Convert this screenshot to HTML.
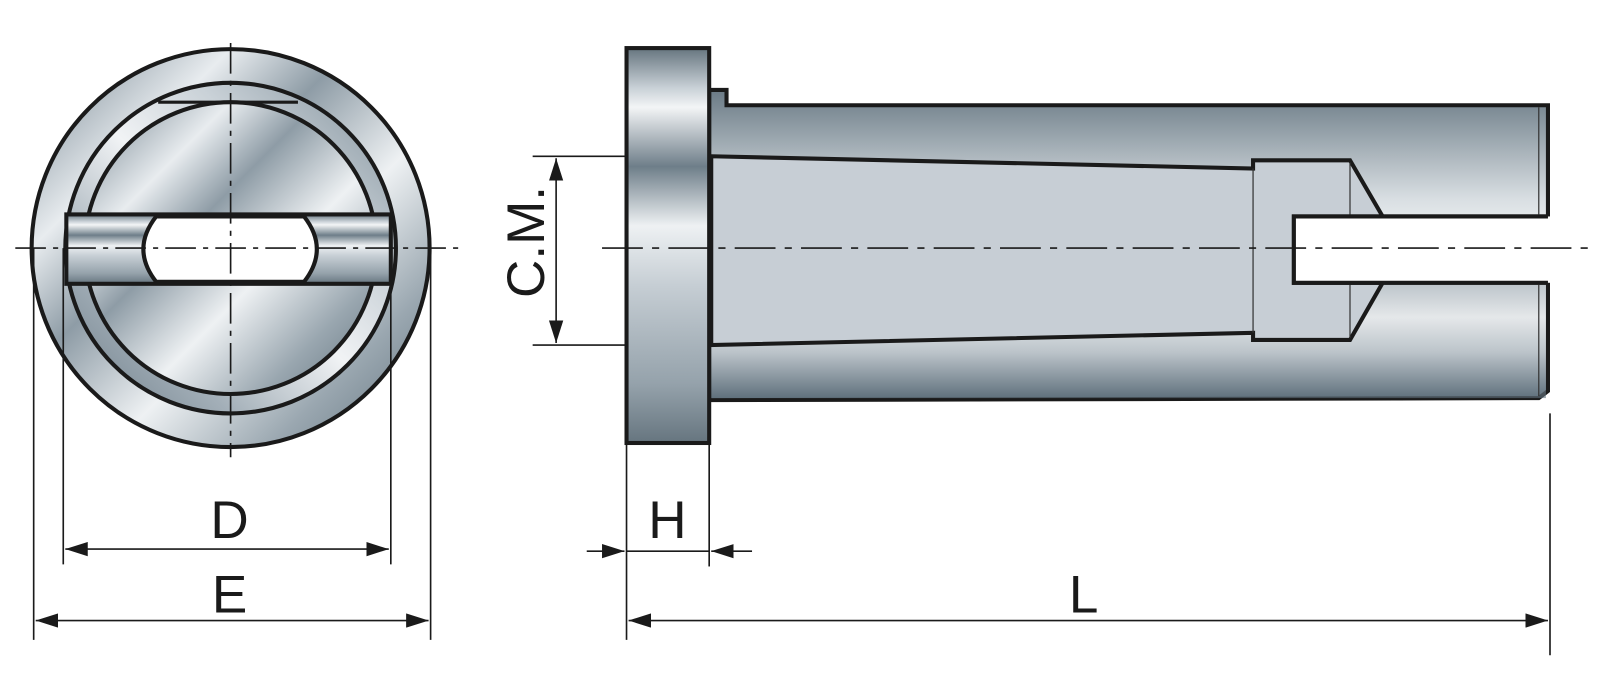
<!DOCTYPE html>
<html><head><meta charset="utf-8"><style>
html,body{margin:0;padding:0;background:#fff;}
svg{display:block;}
text{font-family:"Liberation Sans",Arial,sans-serif;fill:#1a1a1a;}
</style></head><body>
<svg width="1600" height="687" viewBox="0 0 1568 673" xmlns="http://www.w3.org/2000/svg">
<defs>
<linearGradient id="met" x1="0" y1="0" x2="1" y2="1">
<stop offset="0" stop-color="#6e7f8b"/><stop offset="0.25" stop-color="#e8ecef"/>
<stop offset="0.4" stop-color="#8e9ca6"/><stop offset="0.6" stop-color="#eef1f3"/>
<stop offset="0.8" stop-color="#9aa7b0"/><stop offset="1" stop-color="#5f707c"/>
</linearGradient>
<linearGradient id="met2" x1="1" y1="0" x2="0" y2="1">
<stop offset="0" stop-color="#7d8d98"/><stop offset="0.3" stop-color="#c9d1d7"/>
<stop offset="0.5" stop-color="#f1f3f5"/><stop offset="0.75" stop-color="#a3afb8"/>
<stop offset="1" stop-color="#6a7a86"/>
</linearGradient>
<linearGradient id="flange" x1="0" y1="0" x2="0" y2="1">
<stop offset="0" stop-color="#66757f"/><stop offset="0.1" stop-color="#c8d0d6"/>
<stop offset="0.15" stop-color="#f3f5f6"/><stop offset="0.3" stop-color="#6e7e89"/>
<stop offset="0.45" stop-color="#eef1f3"/><stop offset="0.6" stop-color="#c6ced4"/>
<stop offset="0.85" stop-color="#95a2ab"/><stop offset="1" stop-color="#66757f"/>
</linearGradient>
<linearGradient id="rod" x1="0" y1="0" x2="0" y2="1">
<stop offset="0" stop-color="#6a7a85"/><stop offset="0.35" stop-color="#d8dee2"/>
<stop offset="0.55" stop-color="#ffffff"/><stop offset="1" stop-color="#5f707c"/>
</linearGradient>
<linearGradient id="rodb" x1="0" y1="0" x2="0" y2="1">
<stop offset="0" stop-color="#9fabb4"/><stop offset="0.3" stop-color="#ffffff"/>
<stop offset="0.6" stop-color="#d5dbe0"/><stop offset="1" stop-color="#5f707c"/>
</linearGradient>
<marker id="ah" viewBox="0 0 22 14" refX="22" refY="7" markerWidth="22" markerHeight="14" markerUnits="userSpaceOnUse" orient="auto-start-reverse">
<path d="M0,0 L22,7 L0,14 Z" fill="#1a1a1a"/>
</marker>
</defs>

<!-- LEFT VIEW -->
<circle cx="226" cy="243" r="195" fill="url(#met)" stroke="#1a1a1a" stroke-width="4"/>
<circle cx="226" cy="243" r="162" fill="url(#met2)" stroke="#1a1a1a" stroke-width="4"/>
<circle cx="226" cy="243" r="143" fill="url(#met)" stroke="#1a1a1a" stroke-width="4"/>
<path d="M155,100 L292,100" stroke="#1a1a1a" stroke-width="3"/>
<rect x="65" y="210" width="318" height="68" fill="url(#flange)" stroke="#1a1a1a" stroke-width="4"/>
<path d="M153,212 Q128,244 153,276 L298,276 Q323,244 298,212 Z" fill="#fff" stroke="#1a1a1a" stroke-width="4"/>
<g stroke="#1a1a1a" stroke-width="1.6" fill="none">
<line x1="226" y1="42" x2="226" y2="448" stroke-dasharray="30,7,5,7"/>
<line x1="15" y1="243" x2="452" y2="243" stroke-dasharray="30,7,5,7"/>
<line x1="33" y1="243" x2="33" y2="627"/>
<line x1="422" y1="243" x2="422" y2="627"/>
<line x1="62" y1="243" x2="62" y2="553"/>
<line x1="383" y1="243" x2="383" y2="553"/>
<line x1="64" y1="538" x2="381" y2="538" marker-start="url(#ah)" marker-end="url(#ah)"/>
<line x1="35" y1="608" x2="420" y2="608" marker-start="url(#ah)" marker-end="url(#ah)"/>
</g>
<text x="225" y="527" font-size="52" text-anchor="middle">D</text>
<text x="225" y="600" font-size="52" text-anchor="middle">E</text>

<!-- RIGHT VIEW -->
<path d="M695,88 L712,88 L712,103 L1517,103 L1517,212 L1355,212 L1355,277 L1517,277 L1517,383 L1508,390 L695,392 Z" fill="url(#rod)" stroke="#1a1a1a" stroke-width="4"/>
<rect x="697" y="277" width="818" height="113" fill="url(#rodb)" opacity="0.6"/>
<line x1="1508" y1="105" x2="1508" y2="210" stroke="#333" stroke-width="1.2"/>
<line x1="1508" y1="279" x2="1508" y2="388" stroke="#333" stroke-width="1.2"/>
<path d="M697,153 L1228,165 L1228,157 L1323,157 L1355,212 L1268,212 L1268,277 L1355,277 L1323,333 L1228,333 L1228,326 L697,338 Z" fill="#c7ced5" stroke="#1a1a1a" stroke-width="4" stroke-linejoin="miter"/>
<line x1="1323" y1="159" x2="1323" y2="212" stroke="#333" stroke-width="1.2"/>
<line x1="1323" y1="277" x2="1323" y2="331" stroke="#333" stroke-width="1.2"/>
<line x1="1228" y1="165" x2="1228" y2="326" stroke="#333" stroke-width="1.2"/>
<!-- slot white -->
<rect x="1268" y="212" width="260" height="65" fill="#fff"/>
<path d="M1530,212 L1268,212 L1268,277 L1530,277" fill="none" stroke="#fff" stroke-width="0"/>
<path d="M1517,212 L1268,212 L1268,277 L1517,277" fill="none" stroke="#1a1a1a" stroke-width="4"/>
<!-- flange -->
<rect x="614" y="47" width="81" height="387" fill="url(#flange)" stroke="#1a1a1a" stroke-width="4"/>
<g stroke="#1a1a1a" stroke-width="1.6" fill="none">
<line x1="590" y1="243" x2="1562" y2="243" stroke-dasharray="40,9,7,9"/>
<line x1="522" y1="153" x2="614" y2="153"/>
<line x1="522" y1="338" x2="614" y2="338"/>
<line x1="545" y1="155" x2="545" y2="336" marker-start="url(#ah)" marker-end="url(#ah)"/>
<line x1="614" y1="434" x2="614" y2="627"/>
<line x1="695" y1="434" x2="695" y2="555"/>
<line x1="1519" y1="405" x2="1519" y2="642"/>
<line x1="575" y1="540" x2="612" y2="540" marker-end="url(#ah)"/>
<line x1="614" y1="540" x2="695" y2="540"/>
<line x1="737" y1="540" x2="697" y2="540" marker-end="url(#ah)"/>
<line x1="616" y1="608" x2="1517" y2="608" marker-start="url(#ah)" marker-end="url(#ah)"/>
</g>
<text x="654" y="527" font-size="52" text-anchor="middle">H</text>
<text x="1062" y="600" font-size="52" text-anchor="middle">L</text>
<text transform="translate(533,237) rotate(-90)" font-size="52" text-anchor="middle">C.M.</text>
</svg>
</body></html>
